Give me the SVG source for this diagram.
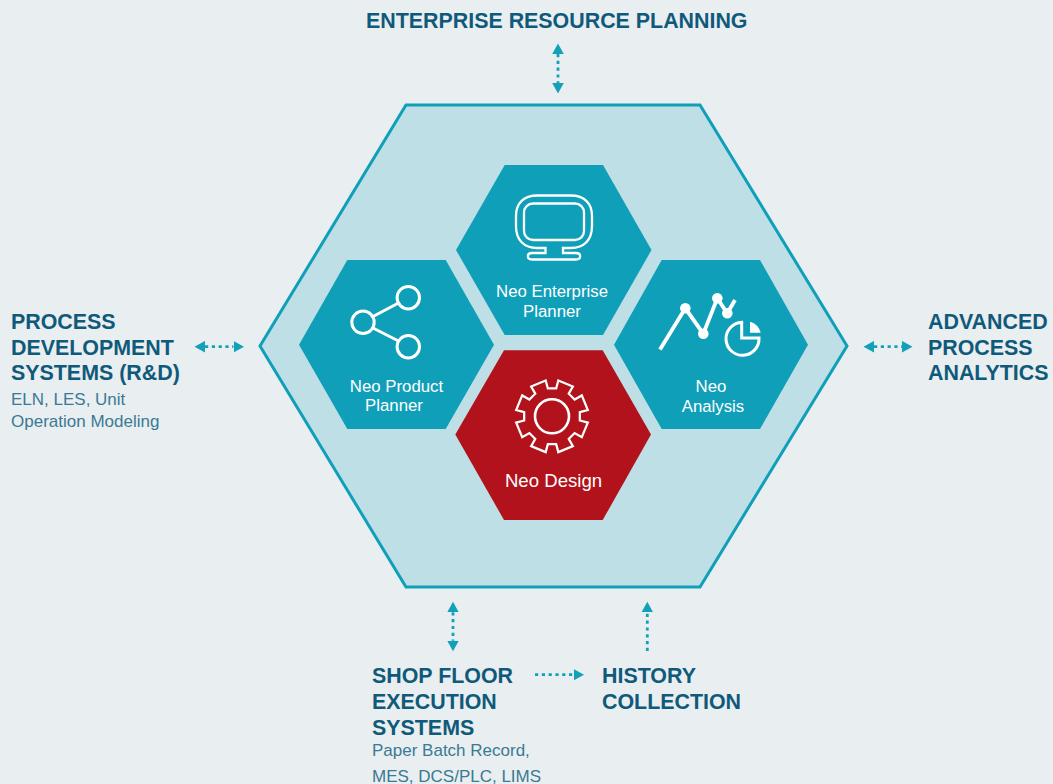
<svg xmlns="http://www.w3.org/2000/svg" width="1053" height="784" viewBox="0 0 1053 784">
<style>
.h{font:bold 21.4px "Liberation Sans",Arial,sans-serif;fill:#0f5a7a}
.s{font:17px "Liberation Sans",Arial,sans-serif;fill:#3a7a94}
.l{font:16.8px "Liberation Sans",Arial,sans-serif;fill:#fff;text-anchor:middle}
.i{fill:none;stroke:#fff;stroke-width:3;stroke-linejoin:miter}
.t{stroke-width:2.3}
.c{fill:none;stroke:#13a1ba;stroke-width:2.8;stroke-dasharray:3.2 3.6}
.hex{fill:#109fb9}
</style>
<defs>
<marker id="tri" markerUnits="userSpaceOnUse" markerWidth="11" markerHeight="12" refX="0" refY="6" orient="auto-start-reverse">
<path d="M0,.2L10.5,6L0,11.8Z" fill="#13a1ba"/>
</marker>
</defs>
<rect width="1053" height="784" fill="#e9eef1"/>
<g id="platform"><path d="M406,105H700L847,346L700,587H406L260,346Z" fill="#bedfe5" stroke="#109fb9" stroke-width="3"/></g>
<g id="connectors">
<path class="c" d="M558,54V83" marker-start="url(#tri)" marker-end="url(#tri)"/>
<path class="c" d="M205,346.7H233.5" marker-start="url(#tri)" marker-end="url(#tri)"/>
<path class="c" d="M874,346.7H902" marker-start="url(#tri)" marker-end="url(#tri)"/>
<path class="c" d="M453,612.3V640.7" marker-start="url(#tri)" marker-end="url(#tri)"/>
<path class="c" d="M647.3,651V612.3" marker-end="url(#tri)"/>
<path class="c" d="M535,674.7H573.5" marker-end="url(#tri)"/>
</g>
<g id="neo-enterprise-planner">
<path class="hex" d="M504.7,165H603L651.5,250L603,335H504.7L456,250Z"/>
<path class="i t" d="M545.5,248H537C524,248 516,240 516,226V216C516,203 524,195.5 537,195.5H571C584,195.5 592,203 592,216V226C592,240 584,248 571,248H563V253H576C581.5,253 581.5,259.5 576,259.5H532C526.5,259.5 526.5,253 532,253H545.5Z"/>
<rect class="i t" x="524" y="203.5" width="60" height="36.5" rx="9"/>
<text class="l" x="552" y="297">Neo Enterprise</text>
<text class="l" x="552" y="317">Planner</text>
</g>
<g id="neo-product-planner">
<path class="hex" d="M347.3,260H445.7L494,344.7L445.7,429H347.3L299,344.7Z"/>
<path class="i" d="M373,316.5L398.5,303M373,328L398.5,341"/>
<circle class="i" cx="408.3" cy="297.7" r="11.2"/>
<circle class="i" cx="363" cy="322.3" r="11.2"/>
<circle class="i" cx="408.3" cy="346.7" r="11.2"/>
<text class="l" x="396.5" y="392">Neo Product</text>
<text class="l" x="394" y="411">Planner</text>
</g>
<g id="neo-analysis">
<path class="hex" d="M661.7,260H760L808,344.7L760,429H661.7L614,344.7Z"/>
<path class="i" style="stroke-width:3.8" d="M660,349.5L685.3,308.3L703.3,333.7L717.3,298.3L727.3,313.3L735,300"/>
<g fill="#fff"><circle cx="685.3" cy="308.3" r="5.3"/><circle cx="703.3" cy="333.7" r="5.3"/><circle cx="717.3" cy="298.3" r="5.3"/><circle cx="727.3" cy="313.3" r="5.3"/>
<path d="M750,321.7A15.5,15.5 0 0 1 760.7,332.8H750Z"/></g>
<path class="i" d="M741.7,322.3A16.5,16.5 0 1 0 759,338H741.7Z"/>
<text class="l" x="711" y="392">Neo</text>
<text class="l" x="713" y="412">Analysis</text>
</g>
<g id="neo-design">
<path d="M504,350.3H602.7L651,434.5L602.7,520H504L455.3,434.5Z" fill="#b2121b"/>
<g transform="translate(552,416.3)">
<path class="i t" transform="scale(.97)" d="M4.29,-28.68L6.51,-36.93L21.5,-30.72L17.25,-23.31L23.31,-17.25L30.72,-21.5L36.93,-6.51L28.68,-4.29L28.68,4.29L36.93,6.51L30.72,21.5L23.31,17.25L17.25,23.31L21.5,30.72L6.51,36.93L4.29,28.68L-4.29,28.68L-6.51,36.93L-21.5,30.72L-17.25,23.31L-23.31,17.25L-30.72,21.5L-36.93,6.51L-28.68,4.29L-28.68,-4.29L-36.93,-6.51L-30.72,-21.5L-23.31,-17.25L-17.25,-23.31L-21.5,-30.72L-6.51,-36.93L-4.29,-28.68Z"/>
<circle class="i" style="stroke-width:2.6" r="17"/>
</g>
<text class="l" style="font-size:18.6px" x="553.5" y="487">Neo Design</text>
</g>
<g id="erp"><text class="h" x="366" y="28">ENTERPRISE RESOURCE PLANNING</text></g>
<g id="pds">
<text class="h" x="11" y="329">PROCESS</text>
<text class="h" x="11" y="355">DEVELOPMENT</text>
<text class="h" x="11" y="380">SYSTEMS (R&amp;D)</text>
<text class="s" x="11" y="405">ELN, LES, Unit</text>
<text class="s" x="11" y="427">Operation Modeling</text>
</g>
<g id="apa">
<text class="h" x="928" y="329">ADVANCED</text>
<text class="h" x="928" y="355">PROCESS</text>
<text class="h" x="928" y="380">ANALYTICS</text>
</g>
<g id="sfes">
<text class="h" x="372" y="683">SHOP FLOOR</text>
<text class="h" x="372" y="709">EXECUTION</text>
<text class="h" x="372" y="735">SYSTEMS</text>
<text class="s" x="372" y="756">Paper Batch Record,</text>
<text class="s" x="372" y="782">MES, DCS/PLC, LIMS</text>
</g>
<g id="history">
<text class="h" x="602" y="683">HISTORY</text>
<text class="h" x="602" y="709">COLLECTION</text>
</g>
</svg>
